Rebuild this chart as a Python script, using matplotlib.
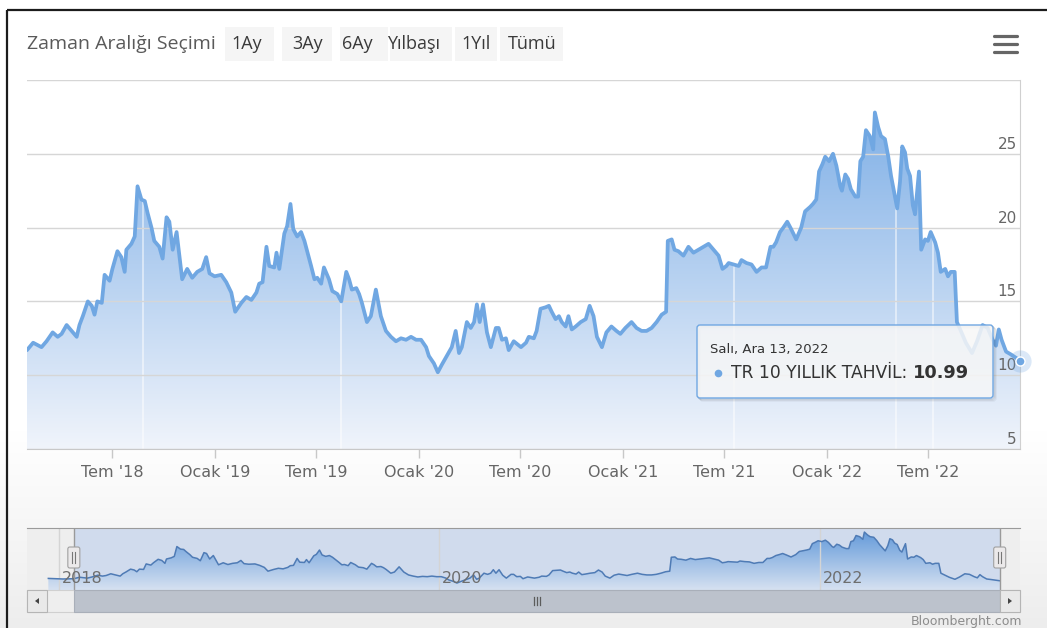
import numpy as np
import pandas as pd
import matplotlib
matplotlib.use('Agg')
import matplotlib.pyplot as plt
import matplotlib.dates as mdates
import matplotlib.transforms as mtransforms
from matplotlib.patches import Polygon, Rectangle, FancyBboxPatch
from matplotlib.colors import LinearSegmentedColormap
from matplotlib.ticker import FuncFormatter

W, H = 1047, 628

# TR 10 yillik tahvil faizi (%), yillara gore
dates_2018 = ['2017-12-11', '2018-01-08', '2018-01-29', '2018-02-09', '2018-02-24', '2018-03-05',
              '2018-03-16', '2018-03-25', '2018-04-01', '2018-04-10', '2018-04-19', '2018-04-28',
              '2018-05-03', '2018-05-09', '2018-05-18', '2018-05-25', '2018-05-30', '2018-06-04',
              '2018-06-12', '2018-06-17', '2018-06-26', '2018-07-01', '2018-07-10', '2018-07-17',
              '2018-07-23', '2018-07-26', '2018-08-04', '2018-08-10', '2018-08-15', '2018-08-22',
              '2018-08-28', '2018-09-02', '2018-09-09', '2018-09-14', '2018-09-23', '2018-09-29',
              '2018-10-06', '2018-10-11', '2018-10-17', '2018-10-24', '2018-10-29', '2018-11-03',
              '2018-11-12', '2018-11-21', '2018-11-30', '2018-12-09', '2018-12-16', '2018-12-22',
              '2018-12-31']
yields_2018 = [11.8, 11.6, 11.7, 12.2, 11.9, 12.3, 12.9, 12.6, 12.8, 13.4, 13.0, 12.6,
               13.4, 14.0, 15.0, 14.7, 14.1, 15.0, 14.9, 16.8, 16.4, 17.2, 18.4, 18.0,
               17.0, 18.5, 18.9, 19.4, 22.8, 21.9, 21.8, 21.0, 20.0, 19.1, 18.7, 17.9,
               20.7, 20.4, 18.5, 19.7, 18.1, 16.5, 17.2, 16.6, 17.0, 17.2, 18.0, 16.9,
               16.7]

dates_2019 = ['2019-01-12', '2019-01-21', '2019-01-30', '2019-02-06', '2019-02-17', '2019-02-26',
              '2019-03-07', '2019-03-16', '2019-03-21', '2019-03-27', '2019-04-03', '2019-04-08',
              '2019-04-17', '2019-04-21', '2019-04-26', '2019-05-05', '2019-05-10', '2019-05-16',
              '2019-05-21', '2019-05-28', '2019-06-04', '2019-06-10', '2019-06-15', '2019-06-22',
              '2019-06-28', '2019-07-03', '2019-07-10', '2019-07-15', '2019-07-24', '2019-07-30',
              '2019-08-08', '2019-08-15', '2019-08-24', '2019-08-29', '2019-09-03', '2019-09-11',
              '2019-09-16', '2019-09-21', '2019-09-30', '2019-10-07', '2019-10-16', '2019-10-25',
              '2019-11-03', '2019-11-12', '2019-11-21', '2019-11-30', '2019-12-09', '2019-12-18',
              '2019-12-27']
yields_2019 = [16.8, 16.3, 15.6, 14.3, 14.9, 15.3, 15.1, 15.6, 16.2, 16.3, 18.7, 17.4,
               17.3, 18.3, 17.2, 19.6, 20.1, 21.6, 19.9, 19.4, 19.7, 19.1, 18.4, 17.4,
               16.5, 16.6, 16.2, 17.3, 16.5, 15.7, 15.5, 15.0, 17.0, 16.5, 15.8, 15.9,
               15.5, 14.9, 13.6, 14.0, 15.8, 14.0, 13.0, 12.6, 12.3, 12.5, 12.4, 12.6,
               12.4]

dates_2020 = ['2020-01-05', '2020-01-14', '2020-01-19', '2020-01-28', '2020-02-04', '2020-02-11',
              '2020-02-20', '2020-02-29', '2020-03-07', '2020-03-13', '2020-03-18', '2020-03-27',
              '2020-04-03', '2020-04-09', '2020-04-14', '2020-04-19', '2020-04-25', '2020-05-02',
              '2020-05-09', '2020-05-18', '2020-05-23', '2020-05-29', '2020-06-05', '2020-06-10',
              '2020-06-19', '2020-07-02', '2020-07-11', '2020-07-16', '2020-07-25', '2020-07-30',
              '2020-08-06', '2020-08-15', '2020-08-21', '2020-08-26', '2020-09-02', '2020-09-08',
              '2020-09-13', '2020-09-20', '2020-09-25', '2020-10-01', '2020-10-08', '2020-10-17',
              '2020-10-26', '2020-11-02', '2020-11-09', '2020-11-15', '2020-11-24', '2020-12-02',
              '2020-12-11', '2020-12-20', '2020-12-27']
yields_2020 = [12.4, 11.9, 11.3, 10.8, 10.2, 10.7, 11.3, 11.9, 13.0, 11.5, 11.9, 13.6,
               13.2, 13.6, 14.8, 13.6, 14.8, 12.9, 11.9, 13.2, 13.2, 12.4, 12.5, 11.7,
               12.3, 11.9, 12.2, 12.6, 12.5, 13.0, 14.5, 14.6, 14.7, 14.3, 13.8, 14.0,
               13.6, 13.3, 14.0, 13.1, 13.3, 13.6, 13.8, 14.7, 14.0, 12.6, 11.9, 12.9,
               13.3, 13.0, 12.8]

dates_2021 = ['2021-01-05', '2021-01-16', '2021-01-25', '2021-02-03', '2021-02-12', '2021-02-21',
              '2021-03-02', '2021-03-11', '2021-03-19', '2021-03-22', '2021-03-29', '2021-04-03',
              '2021-04-10', '2021-04-19', '2021-04-28', '2021-05-07', '2021-05-16', '2021-05-25',
              '2021-06-03', '2021-06-12', '2021-06-21', '2021-06-28', '2021-07-05', '2021-07-09',
              '2021-07-18', '2021-07-27', '2021-08-01', '2021-08-10', '2021-08-19', '2021-08-28',
              '2021-09-06', '2021-09-14', '2021-09-22', '2021-09-27', '2021-10-02', '2021-10-09',
              '2021-10-15', '2021-10-22', '2021-10-29', '2021-11-07', '2021-11-16', '2021-11-23',
              '2021-12-02', '2021-12-07', '2021-12-13', '2021-12-18', '2021-12-24', '2021-12-29']
yields_2021 = [13.2, 13.6, 13.2, 13.0, 13.0, 13.2, 13.6, 14.1, 14.3, 19.1, 19.2, 18.5,
               18.4, 18.1, 18.7, 18.3, 18.5, 18.7, 18.9, 18.5, 18.1, 17.2, 17.4, 17.6,
               17.5, 17.4, 17.8, 17.6, 17.5, 17.0, 17.3, 17.3, 18.7, 18.7, 19.0, 19.7,
               20.0, 20.4, 19.9, 19.2, 20.0, 21.1, 21.4, 21.6, 21.9, 23.8, 24.3, 24.8]

dates_2022 = ['2022-01-05', '2022-01-12', '2022-01-18', '2022-01-25', '2022-01-28', '2022-02-03',
              '2022-02-08', '2022-02-13', '2022-02-21', '2022-02-26', '2022-03-02', '2022-03-07',
              '2022-03-12', '2022-03-19', '2022-03-25', '2022-03-28', '2022-04-03', '2022-04-08',
              '2022-04-15', '2022-04-21', '2022-04-26', '2022-05-03', '2022-05-07', '2022-05-12',
              '2022-05-16', '2022-05-21', '2022-05-25', '2022-05-30', '2022-06-04', '2022-06-08',
              '2022-06-15', '2022-06-19', '2022-06-26', '2022-07-01', '2022-07-06', '2022-07-14',
              '2022-07-19', '2022-07-24', '2022-08-01', '2022-08-06', '2022-08-11', '2022-08-18',
              '2022-08-22', '2022-08-29', '2022-09-07', '2022-09-18', '2022-09-27', '2022-10-07',
              '2022-10-16', '2022-10-25', '2022-10-31', '2022-11-05', '2022-11-10', '2022-11-18',
              '2022-11-27', '2022-12-13']
yields_2022 = [24.5, 25.0, 24.2, 22.8, 22.5, 23.6, 23.3, 22.6, 22.1, 22.1, 24.5, 24.8,
               26.6, 26.2, 25.3, 27.8, 26.8, 26.2, 26.0, 24.8, 23.5, 22.1, 21.3, 23.1,
               25.5, 25.1, 24.0, 23.5, 21.5, 20.9, 23.8, 18.5, 19.2, 19.1, 19.7, 19.0,
               18.3, 17.0, 17.2, 16.7, 17.0, 17.0, 13.6, 13.0, 12.2, 11.5, 12.3, 13.4,
               13.2, 12.4, 12.0, 13.1, 12.4, 11.6, 11.4, 10.99]

series_name = 'TR 10 YILLIK TAHVİL'
view_start = '2018-01-29'
nav_span = ['2017-10-31', '2023-01-21']
nav_years = ['2018-01-01', '2020-01-01', '2022-01-01']
y_ticks = [5, 10, 15, 20, 25, 30]
y_labels = [5, 10, 15, 20, 25]
seam_dates = ['2018-08-24', '2019-08-15', '2021-07-18', '2022-05-05', '2022-07-11']
range_buttons = ['1Ay', '3Ay', '6Ay', 'Yılbaşı', '1Yıl', 'Tümü']

month_tr = {1: 'Ocak', 7: 'Tem'}
day_tr = ['Pazartesi', 'Salı', 'Çarşamba', 'Perşembe', 'Cuma', 'Cumartesi', 'Pazar']
month_short_tr = ['Oca', 'Şub', 'Mar', 'Nis', 'May', 'Haz', 'Tem', 'Ağu', 'Eyl', 'Eki', 'Kas', 'Ara']

date_str = dates_2018 + dates_2019 + dates_2020 + dates_2021 + dates_2022
values = yields_2018 + yields_2019 + yields_2020 + yields_2021 + yields_2022
assert len(date_str) == len(values)

dates = pd.to_datetime(date_str)
yields = np.array(values)
xd = mdates.date2num(dates)
x0 = mdates.date2num(pd.Timestamp(view_start))
x1 = xd[-1]

line_col = '#70a7e2'
grad = np.linspace(1, 0, 256)[:, None]


def box(l, t, r, b):
    # pixel box (left, top, right, bottom) -> figure fraction rect
    return [l / W, 1 - b / H, (r - l) / W, (b - t) / H]


fig = plt.figure(figsize=(W / 100, H / 100), dpi=100)

# page background, white fading to light grey toward the bottom
bg = fig.add_axes([0, 0, 1, 1], zorder=-10)
shade = np.clip((np.arange(H) - 430) / (H - 430), 0, 1)
rows = 1 - shade * (18 / 255)
bg.imshow(np.repeat(rows[:, None, None], 3, axis=2), extent=[0, 1, 0, 1], aspect='auto')
bg.axis('off')

# ---- main chart ----
ax = fig.add_axes(box(27, 80, 1020, 449))
ax.set_facecolor('white')

area = Polygon(np.column_stack([np.r_[xd[0], xd, xd[-1]], np.r_[5, yields, 5]]),
               closed=True, fc='none', ec='none')
ax.add_patch(area)
fill_cmap = LinearSegmentedColormap.from_list('fill', ['#f0f4fb', '#76aae5'])
im = ax.imshow(grad, extent=[xd[0], xd[-1], 5, 30], aspect='auto', cmap=fill_cmap,
               vmin=0, vmax=1, zorder=1, interpolation='bilinear')
im.set_clip_path(area)

seams = ax.vlines(mdates.date2num(pd.to_datetime(seam_dates)), 5, 30,
                  colors='white', lw=1.3, alpha=0.55, zorder=1.2)
seams.set_clip_path(area)

ax.plot(xd, yields, color=line_col, lw=2.7, zorder=3,
        solid_joinstyle='round', solid_capstyle='round')

ax.set_xlim(x0, x1)
ax.set_ylim(5, 30)
ax.set_yticks(y_ticks)
ax.grid(axis='y', color='#d6d6d6', lw=1)
ax.tick_params(axis='y', length=0, labelleft=False, labelright=False)

ax.xaxis.set_major_locator(mdates.MonthLocator(bymonth=[1, 7]))
ax.xaxis.set_major_formatter(FuncFormatter(
    lambda v, p: f"{month_tr[mdates.num2date(v).month]} '{mdates.num2date(v):%y}"))
ax.tick_params(axis='x', length=6.5, width=1, color='#c8c8c8',
               labelsize=11.5, labelcolor='#666666', pad=5)
for s in ['top', 'left']:
    ax.spines[s].set_visible(False)
ax.spines['bottom'].set_color('#c8c8c8')
ax.spines['right'].set_color('#d0d0d0')

lab_tf = mtransforms.offset_copy(ax.get_yaxis_transform(), fig=fig, x=-3, y=2, units='dots')
for v in y_labels:
    ax.text(1, v, str(v), transform=lab_tf, ha='right', va='bottom',
            fontsize=11, color='#666666', zorder=4)

# hover point on the last value
ax.plot(xd[-1], yields[-1], 'o', ms=16, color=line_col, alpha=0.25, mec='none',
        clip_on=False, zorder=6)
ax.plot(xd[-1], yields[-1], 'o', ms=6.5, color=line_col, mec='white', mew=1,
        clip_on=False, zorder=7)

# ---- navigator ----
nav = fig.add_axes(box(27, 528, 1020, 590))
n0, n1 = mdates.date2num(pd.to_datetime(nav_span))
nav.set_facecolor('#eeeeee')
nav.axvspan(x0, x1, color='#d0dbed', lw=0, zorder=0.2)

nav_area = Polygon(np.column_stack([np.r_[xd[0], xd, xd[-1]], np.r_[7.8, yields, 7.8]]),
                   closed=True, fc='none', ec='none')
nav.add_patch(nav_area)
nav_cmap = LinearSegmentedColormap.from_list('nav', ['#d6e1f1', '#5b95d8'])
nim = nav.imshow(grad, extent=[xd[0], xd[-1], 7.8, 29.2], aspect='auto', cmap=nav_cmap,
                 vmin=0, vmax=1, zorder=1, interpolation='bilinear')
nim.set_clip_path(nav_area)
nav.plot(xd, yields, color='#4f7bb5', lw=1.1, zorder=3)

nav.set_xlim(n0, n1)
nav.set_ylim(7.8, 29.2)
nav.set_xticks(mdates.date2num(pd.to_datetime(nav_years)))
nav.set_yticks([])
nav.grid(axis='x', color='#d4d4d4', lw=1)
nav.tick_params(length=0, labelbottom=False)
for s in ['left', 'right', 'bottom']:
    nav.spines[s].set_visible(False)
nav.spines['top'].set_color('#9a9a9a')
nav.axvline(x0, color='#9a9a9a', lw=1, zorder=4)
nav.axvline(x1, color='#9a9a9a', lw=1, zorder=4)

yr_tf = mtransforms.offset_copy(nav.get_xaxis_transform(), fig=fig, x=3, y=0, units='dots')
for d in pd.to_datetime(nav_years):
    nav.text(mdates.date2num(d), 0.19, str(d.year), transform=yr_tf, ha='left', va='center',
             fontsize=11.5, color='#6e6e6e', zorder=5)

sel_l = nav.transData.transform((x0, 0))[0]
sel_r = nav.transData.transform((x1, 0))[0]

# ---- pixel overlay: frame, range selector, scrollbar, tooltip ----
ov = fig.add_axes([0, 0, 1, 1], zorder=5)
ov.set_xlim(0, W)
ov.set_ylim(H, 0)
ov.axis('off')

ov.plot([7, 7], [10, H], color='#1c1c1c', lw=1.6, solid_capstyle='butt')
ov.plot([7, W], [10, 10], color='#1c1c1c', lw=1.6, solid_capstyle='butt')

ov.text(27, 44, 'Zaman Aralığı Seçimi', fontsize=14, color='#5a5a5a',
        family='Open Sans', ha='left', va='center')
btn_boxes = [(225, 49), (282, 50), (340, 48), (390, 62), (455, 42), (500, 63)]
btn_text_x = [247, 308, 357, 414, 476, 532]
for lab, (bl, bw), tx in zip(range_buttons, btn_boxes, btn_text_x):
    ov.add_patch(Rectangle((bl, 27), bw, 34, fc='#f5f5f5', ec='none'))
    ov.text(tx, 44, lab, fontsize=13, color='#3a3a3a', family='Open Sans',
            ha='center', va='center')

for yy in (36, 44, 52):
    ov.plot([994, 1017], [yy, yy], color='#666666', lw=2.3, solid_capstyle='round')

# navigator handles
for hx in (sel_l, sel_r):
    ov.add_patch(FancyBboxPatch((hx - 6, 547), 12, 21, boxstyle='round,pad=0,rounding_size=2',
                                fc='#ebe9ea', ec='#a0a0a0', lw=0.8, zorder=3))
    for gx in (hx - 1.5, hx + 1.5):
        ov.plot([gx, gx], [552, 563], color='#777777', lw=0.8, zorder=4)

# scrollbar
ov.add_patch(Rectangle((27, 590), 993, 22, fc='#eeeeee', ec='#d0d0d0', lw=0.8))
ov.add_patch(Rectangle((sel_l, 590), sel_r - sel_l, 22, fc='#bcc2cc', ec='#a9afb9', lw=0.8))
cx = (sel_l + sel_r) / 2
for gx in (cx - 3, cx, cx + 3):
    ov.plot([gx, gx], [597, 605], color='#5c5c5c', lw=0.9)
ov.add_patch(Rectangle((27, 590), 20, 22, fc='#e9e9e9', ec='#b5b5b5', lw=0.8))
ov.add_patch(Polygon([(35, 601), (39, 598), (39, 604)], closed=True, fc='#444444', ec='none'))
ov.add_patch(Rectangle((1000, 590), 20, 22, fc='#e9e9e9', ec='#b5b5b5', lw=0.8))
ov.add_patch(Polygon([(1012, 601), (1008, 598), (1008, 604)], closed=True, fc='#444444', ec='none'))

ov.text(1022, 621, 'Bloomberght.com', fontsize=9, color='#8c8c8c', ha='right', va='center')

# tooltip for the last point
last = dates[-1]
tip_date = f"{day_tr[last.weekday()]}, {month_short_tr[last.month - 1]} {last.day}, {last.year}"
for off, a in ((3, 0.05), (2, 0.08), (1, 0.1)):
    ov.add_patch(FancyBboxPatch((697 + off, 325 + off), 296, 73,
                                boxstyle='round,pad=0,rounding_size=3',
                                fc='none', ec='black', lw=1, alpha=a, zorder=6))
ov.add_patch(FancyBboxPatch((697, 325), 296, 73, boxstyle='round,pad=0,rounding_size=3',
                            fc=(0.97, 0.97, 0.97, 0.85), ec=line_col, lw=1, zorder=7))
ov.text(710, 350, tip_date, fontsize=9.5, color='#333333', ha='left', va='center', zorder=8)
ov.plot(718, 373, 'o', ms=5.5, color=line_col, mec='none', zorder=8)
t1 = ov.text(731, 373, f'{series_name}: ', fontsize=12.3, color='#333333',
             ha='left', va='center', zorder=8)
fig.canvas.draw()
t1_right = t1.get_window_extent(fig.canvas.get_renderer()).x1
ov.text(t1_right, 373, f'{yields[-1]:.2f}', fontsize=12.8, color='#333333',
        fontweight='bold', ha='left', va='center', zorder=8)

fig.savefig('out.png', dpi=100)
